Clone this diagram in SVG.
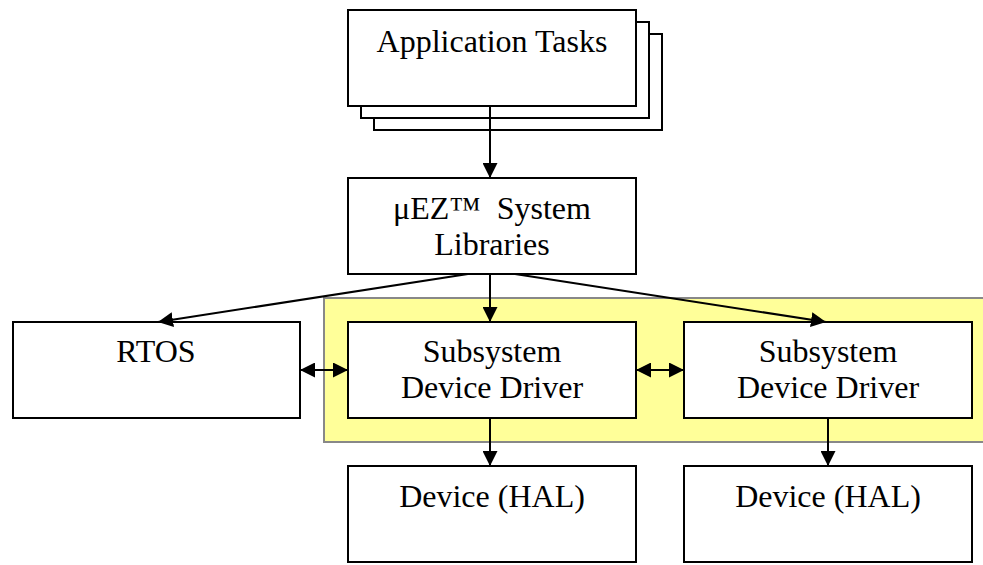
<svg xmlns="http://www.w3.org/2000/svg" width="983" height="565" viewBox="0 0 983 565">
<style>
.box{fill:#fff;stroke:#000;stroke-width:2}
.lbl{font-family:"Liberation Serif","Times New Roman",serif;font-size:32px;fill:#000;text-anchor:middle}
.con{stroke:#000;stroke-width:2;fill:none}
</style>
<defs>
<marker id="ah" markerUnits="userSpaceOnUse" markerWidth="15" markerHeight="15" viewBox="0 0 15 15" refX="15" refY="7.5" orient="auto-start-reverse">
<path d="M0,0 L15,7.5 L0,15 z" fill="#000"/>
</marker>
</defs>
<rect id="subsystem-area" x="324" y="298" width="670" height="144" fill="#ffff99" stroke="#888" stroke-width="2"/>
<g id="app-tasks">
<rect class="box" x="374" y="34" width="288" height="96"/>
<rect class="box" x="361" y="22" width="288" height="96"/>
<rect class="box" x="348" y="10" width="288" height="96"/>
<text class="lbl" x="492" y="52">Application Tasks</text>
</g>
<g id="uez-libs">
<rect class="box" x="348" y="178" width="288" height="96"/>
<text class="lbl" x="492" y="219" xml:space="preserve">μEZ™  System</text>
<text class="lbl" x="492" y="255">Libraries</text>
</g>
<g id="rtos">
<rect class="box" x="13" y="322" width="287" height="96"/>
<text class="lbl" x="156" y="362">RTOS</text>
</g>
<g id="sdd1">
<rect class="box" x="348" y="322" width="288" height="96"/>
<text class="lbl" x="492" y="362">Subsystem</text>
<text class="lbl" x="492" y="398">Device Driver</text>
</g>
<g id="sdd2">
<rect class="box" x="684" y="322" width="288" height="96"/>
<text class="lbl" x="828" y="362">Subsystem</text>
<text class="lbl" x="828" y="398">Device Driver</text>
</g>
<g id="dev1">
<rect class="box" x="348" y="466" width="288" height="96"/>
<text class="lbl" x="492" y="507">Device (HAL)</text>
</g>
<g id="dev2">
<rect class="box" x="684" y="466" width="288" height="96"/>
<text class="lbl" x="828" y="507">Device (HAL)</text>
</g>
<g id="connectors">
<line class="con" x1="490" y1="106" x2="490" y2="178" marker-end="url(#ah)"/>
<line class="con" x1="490" y1="274" x2="490" y2="322" marker-end="url(#ah)"/>
<line class="con" x1="468" y1="274" x2="158" y2="322" marker-end="url(#ah)"/>
<line class="con" x1="515" y1="274" x2="826" y2="322" marker-end="url(#ah)"/>
<line class="con" x1="300" y1="370" x2="348" y2="370" marker-start="url(#ah)" marker-end="url(#ah)"/>
<line class="con" x1="636" y1="370" x2="684" y2="370" marker-start="url(#ah)" marker-end="url(#ah)"/>
<line class="con" x1="490" y1="418" x2="490" y2="466" marker-end="url(#ah)"/>
<line class="con" x1="828" y1="418" x2="828" y2="466" marker-end="url(#ah)"/>
</g>
</svg>
